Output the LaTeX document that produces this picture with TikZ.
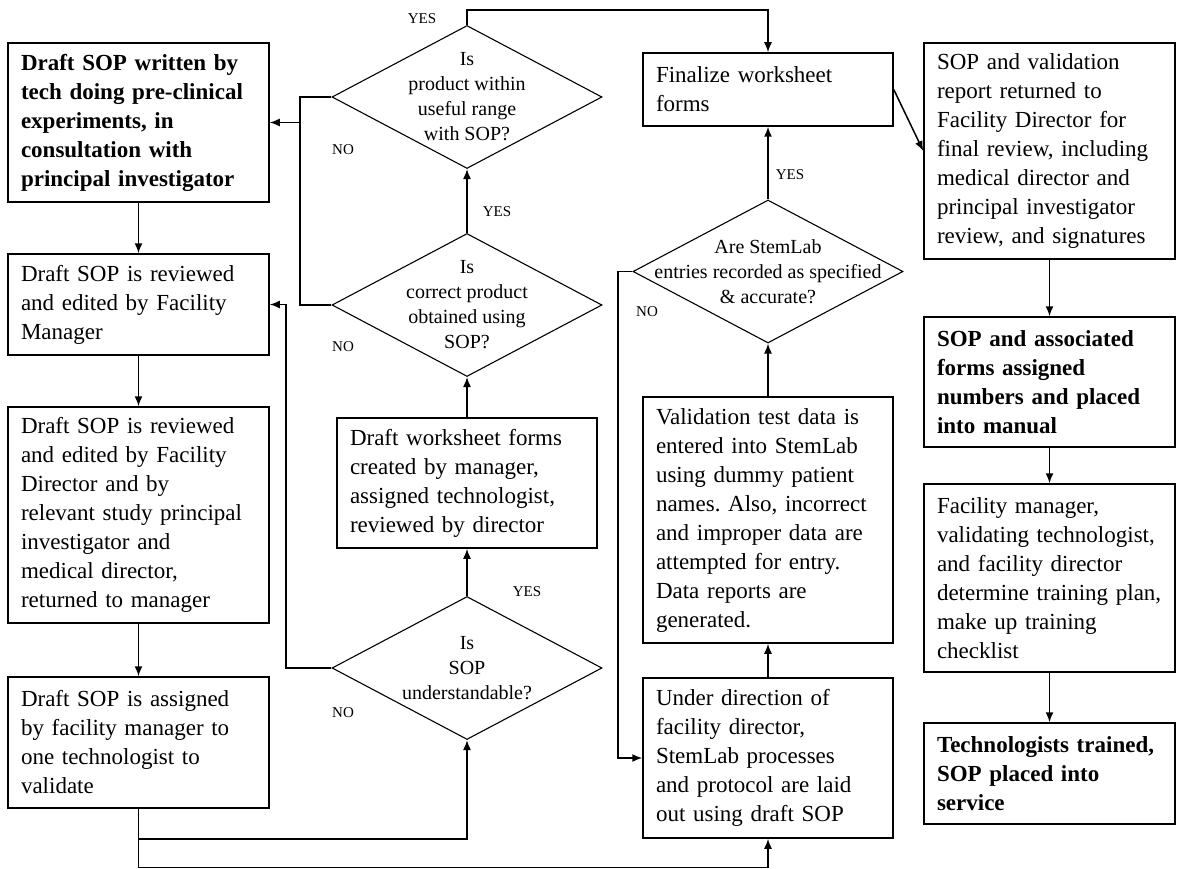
\documentclass[tikz,border=0pt]{standalone}
\usepackage{fontspec}
\setmainfont{Liberation Serif}
\usetikzlibrary{arrows.meta, positioning, shapes.geometric}
\frenchspacing

\begin{document}
\begin{tikzpicture}[x=1pt,y=-1pt]

\tikzset{box/.style = {draw, line width=1.5pt, align=left, inner xsep=13pt, inner ysep=0pt, font=\fontsize{23}{29}\selectfont}}
\tikzset{bbox/.style = {box, font=\fontsize{23}{29}\selectfont\bfseries}}
\tikzset{ask/.style = {shape=diamond, draw, line width=1.1pt, inner sep=0pt, minimum width=270pt, minimum height=143pt}}
\tikzset{qtext/.style = {align=center, inner sep=0pt, font=\fontsize{20}{25}\selectfont}}
\tikzset{tag/.style = {inner sep=0pt, font=\fontsize{15}{15}\selectfont}}
\tikzset{every path/.style = {line width=1.5pt, > = {Latex[length=10pt,width=8pt]}}}

\useasboundingbox (0,0) rectangle (1177,869);

% left column
\node[bbox, text width=235pt, minimum height=159pt] (write) at (138.5,122.5) {Draft SOP written by\\tech doing pre-clinical\\experiments, in\\consultation with\\principal investigator};
\node[box, text width=235pt, minimum height=101pt] (review1) at (138.5,304.5) {Draft SOP is reviewed\\and edited by Facility\\Manager};
\node[box, text width=235pt, minimum height=216pt] (review2) at (138.5,515) {Draft SOP is reviewed\\and edited by Facility\\Director and by\\relevant study principal\\investigator and\\medical director,\\returned to manager};
\node[box, text width=235pt, minimum height=131pt] (assign) at (138.5,742.5) {Draft SOP is assigned\\by facility manager to\\one technologist to\\validate};

% decisions
\node[ask, label={[qtext]center:{Is\\product within\\useful range\\with SOP?}}] (qrange) at (467,97) {};
\node[ask, label={[qtext]center:{Is\\correct product\\obtained using\\SOP?}}] (qcorrect) at (467,305) {};
\node[box, text width=234pt, minimum height=130pt] (sheet) at (467,483) {Draft worksheet forms\\created by manager,\\assigned technologist,\\reviewed by director};
\node[ask, label={[qtext]center:{Is\\SOP\\understandable?}}] (qread) at (467,668) {};

% middle column
\node[box, text width=224pt, minimum height=73pt] (final) at (768,89.5) {Finalize worksheet\\forms};
\node[ask, label={[qtext]center:{Are StemLab\\entries recorded as specified\\\& accurate?}}] (qentry) at (768,271.5) {};
\node[box, text width=224pt, minimum height=246pt] (valid) at (768,520) {Validation test data is\\entered into StemLab\\using dummy patient\\names. Also, incorrect\\and improper data are\\attempted for entry.\\Data reports are\\generated.};
\node[box, text width=224pt, minimum height=160pt] (setup) at (768,758) {Under direction of\\facility director,\\StemLab processes\\and protocol are laid\\out using draft SOP};

% right column
\node[box, text width=225pt, minimum height=216pt] (signoff) at (1049.5,151) {SOP and validation\\report returned to\\Facility Director for\\final review, including\\medical director and\\principal investigator\\review, and signatures};
\node[bbox, text width=225pt, minimum height=130pt] (number) at (1049.5,382) {SOP and associated\\forms assigned\\numbers and placed\\into manual};
\node[box, text width=225pt, minimum height=188pt] (plan) at (1049.5,578) {Facility manager,\\validating technologist,\\and facility director\\determine training plan,\\make up training\\checklist};
\node[bbox, text width=225pt, minimum height=101pt] (train) at (1049.5,773.5) {Technologists trained,\\SOP placed into\\service};

% labels
\node[tag] (yes1) at (422,19) {YES};
\node[tag] (yes2) at (497,212) {YES};
\node[tag] (yes3) at (527,592) {YES};
\node[tag] (yes4) at (790,175) {YES};
\node[tag] (no1) at (343,150) {NO};
\node[tag] (no2) at (343,347) {NO};
\node[tag] (no3) at (343,713) {NO};
\node[tag] (no4) at (647,312) {NO};

%edges
\coordinate (j1) at (138.5,839);
\coordinate (j2) at (138.5,867.5);
\coordinate (top) at (467,10);
\coordinate (n1) at (300,97);
\coordinate (n2) at (286,668);
\coordinate (n3) at (618,271.5);

\draw[->] (write) -- (review1);
\draw[->] (review1) -- (review2);
\draw[->] (review2) -- (assign);
\draw[->] (assign.south) -- (j1) -| (qread.south);
\draw[->] (j1) -- (j2) -| (setup.south);

\draw[->] (qread.north) -- (sheet.south);
\draw[->] (sheet.north) -- (qcorrect.south);
\draw[->] (qcorrect.north) -- (qrange.south);
\draw[->] (qrange.north) -- (top) -| (final.north);

\draw (qrange.west) -- (n1) |- (qcorrect.west);
\draw[->] (n1 |- write.east) -- (write.east);
\draw[->] (qread.west) -- (n2) |- (review1.east);

\draw[->] (setup.north) -- (valid.south);
\draw[->] (valid.north) -- (qentry.south);
\draw[->] (qentry.north) -- (final.south);
\draw[->] (qentry.west) -- (n3) |- (setup.west);

\draw[->] (final.east) -- (signoff.west);
\draw[->] (signoff) -- (number);
\draw[->] (number) -- (plan);
\draw[->] (plan) -- (train);
\end{tikzpicture}
\end{document}
